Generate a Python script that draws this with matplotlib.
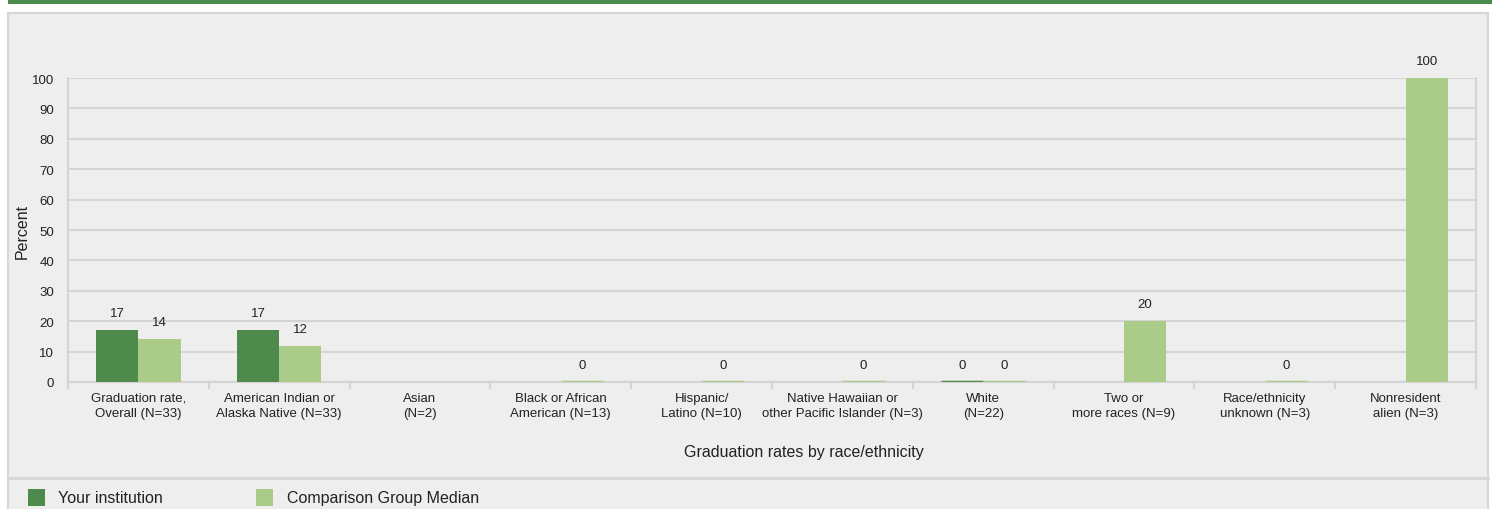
import numpy as np
import matplotlib.pyplot as plt
from matplotlib.patches import Rectangle
from matplotlib.lines import Line2D

plt.rcParams['font.family'] = ['Liberation Sans', 'DejaVu Sans']

# data
categories = [
    "Graduation rate,\nOverall (N=33)",
    "American Indian or\nAlaska Native (N=33)",
    "Asian\n(N=2)",
    "Black or African\nAmerican (N=13)",
    "Hispanic/\nLatino (N=10)",
    "Native Hawaiian or\nother Pacific Islander (N=3)",
    "White\n(N=22)",
    "Two or\nmore races (N=9)",
    "Race/ethnicity\nunknown (N=3)",
    "Nonresident\nalien (N=3)",
]
your_institution = [17, 17, np.nan, np.nan, np.nan, np.nan, 0, np.nan, np.nan, np.nan]
comparison_median = [14, 12, np.nan, 0, 0, 0, 0, 20, 0, 100]
series_names = ["Your institution", "Comparison Group Median"]

dark_green = "#4e8a4c"
light_green = "#abcb89"
panel_bg = "#eeeeee"
grid_col = "#d4d4d4"

W, H = 1492, 510
fig = plt.figure(figsize=(W / 100, H / 100), dpi=100)
fig.patch.set_facecolor("white")

# top green band + grey panel (behind the axes)
fig.patches.append(Rectangle((8 / W, 1 - 5 / H), 1 - 8 / W, 5 / H, transform=fig.transFigure,
                             facecolor="#4a8a4a", edgecolor="none", zorder=-5))
fig.patches.append(Rectangle((8 / W, -0.01), 1480 / W, (H - 14) / H + 0.01, transform=fig.transFigure,
                             facecolor=panel_bg, edgecolor="#d6d6d6", linewidth=1.5, zorder=-5))
fig.lines.append(Line2D([8 / W, 1488 / W], [1 - 479 / H, 1 - 479 / H], transform=fig.transFigure,
                        color="#d6d6d6", linewidth=2, zorder=-4))

ax = fig.add_axes([68 / W, 1 - 383 / H, (1476 - 68) / W, (383 - 79) / H])
ax.set_facecolor(panel_bg)

x = np.arange(len(categories))
bw = 0.3
for vals, off, col in [(your_institution, -0.15, dark_green), (comparison_median, 0.15, light_green)]:
    vals = np.array(vals, dtype=float)
    mask = ~np.isnan(vals)
    # zero values still show as a thin coloured line
    lws = [2.5 if v == 0 else 0 for v in vals[mask]]
    ax.bar(x[mask] + off, vals[mask], bw, color=col, edgecolor=col, linewidth=lws, zorder=3)
    for xi, v in zip(x[mask] + off, vals[mask]):
        ax.annotate(f"{v:.0f}", (xi, v), xytext=(0, 11), textcoords="offset pixels",
                    ha="center", va="bottom", fontsize=9.5, color="#222222")

ax.set_xlim(-0.5, len(categories) - 0.5)
ax.set_ylim(0, 100)
ax.set_yticks(np.arange(0, 101, 10))
ax.tick_params(axis="y", length=0, pad=10, labelsize=9.5, labelcolor="#222222")
ax.set_xticks(x)
ax.set_xticklabels(categories, fontsize=9.5, color="#222222", linespacing=1.35)
ax.set_xticks(np.arange(-0.5, len(categories), 1), minor=True)
ax.tick_params(axis="x", which="major", length=0, pad=7)
ax.tick_params(axis="x", which="minor", length=5, width=1.5, color=grid_col)
ax.grid(True, axis="y", color=grid_col, linewidth=1.5, zorder=0)
ax.set_axisbelow(True)
for s in ["left", "right", "bottom"]:
    ax.spines[s].set_color(grid_col)
    ax.spines[s].set_linewidth(1.5)
ax.spines["top"].set_visible(False)

fig.text(804 / W, 1 - 453 / H, "Graduation rates by race/ethnicity", ha="center", va="center",
         fontsize=11.5, color="#222222")
fig.text(22 / W, 1 - 231 / H, "Percent", ha="center", va="center", rotation=90,
         fontsize=11.5, color="#222222")

# legend
for (lx, tx), name, col in zip([(28, 58), (256, 287)], series_names, [dark_green, light_green]):
    fig.patches.append(Rectangle((lx / W, 1 - 507 / H), 17 / W, 17 / H, transform=fig.transFigure,
                                 facecolor=col, edgecolor="none", zorder=2))
    fig.text(tx / W, 1 - 499 / H, name, ha="left", va="center", fontsize=11.5, color="#222222")

fig.savefig("out.png", dpi=100, facecolor=fig.get_facecolor())
